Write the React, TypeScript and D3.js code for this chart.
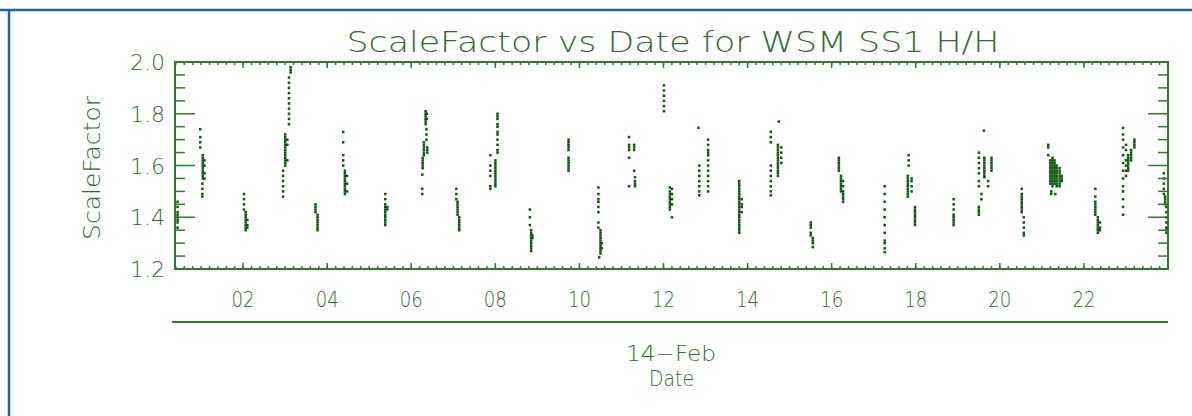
import { useEffect, useRef } from 'react';
import * as d3 from 'd3';

// all hours are on 14 Feb, UTC
const day0 = Date.UTC(2014, 1, 14);
const atHour = (h: number) => new Date(day0 + h * 3600e3);

const xStartHour = 0.38;
const xEndHour = 24;
const yDomain = [1.2, 2.0];
const yTickValues = [1.2, 1.4, 1.6, 1.8, 2.0];
const dateLabel = '14\u2212Feb';

// each entry: [hour of day, scale factor readings at that time]
const obsNight: [number, number[]][] = [
  [0.44, [1.46, 1.44, 1.42, 1.41, 1.4, 1.39, 1.38, 1.36]],
  [0.98, [1.74, 1.71, 1.69, 1.67]],
  [1.04, [1.64, 1.63, 1.62, 1.61, 1.6, 1.59, 1.58, 1.57, 1.56, 1.55]],
  [1.08, [1.62, 1.6, 1.57, 1.55]],
  [1.03, [1.53, 1.51, 1.49, 1.48]],
  [2.02, [1.49, 1.47, 1.45, 1.43]],
  [2.06, [1.42, 1.41, 1.4, 1.39, 1.38, 1.37, 1.36, 1.35]],
  [2.1, [1.39, 1.37, 1.36]],
  [3.13, [1.98, 1.97, 1.96]],
  [3.09, [1.94, 1.92, 1.9, 1.88, 1.86, 1.84, 1.82, 1.8, 1.78, 1.76]],
  [3.0, [1.72, 1.71, 1.7, 1.69, 1.68, 1.67, 1.66, 1.65, 1.64, 1.63, 1.62, 1.61, 1.6]],
  [3.05, [1.7, 1.68, 1.62]],
  [2.95, [1.58, 1.56, 1.54, 1.52, 1.5, 1.48]],
  [3.72, [1.45, 1.44, 1.43, 1.42]],
  [3.77, [1.41, 1.4, 1.39, 1.38, 1.37, 1.36, 1.35]],
  [4.38, [1.73, 1.69, 1.64, 1.62, 1.6]],
  [4.42, [1.58, 1.57, 1.56, 1.55, 1.54, 1.53, 1.52, 1.51, 1.5, 1.49]],
  [4.47, [1.56, 1.53, 1.5]],
  [5.38, [1.49, 1.47, 1.45, 1.44, 1.43, 1.42, 1.41, 1.4, 1.39, 1.38, 1.37]],
  [5.43, [1.44, 1.43]],
];

const obsMorning: [number, number[]][] = [
  [6.34, [1.81, 1.8, 1.79, 1.78, 1.77, 1.76]],
  [6.37, [1.8, 1.78]],
  [6.36, [1.74, 1.72, 1.7]],
  [6.3, [1.69, 1.68, 1.67, 1.66, 1.65, 1.64]],
  [6.38, [1.67, 1.66, 1.65]],
  [6.27, [1.63, 1.62, 1.61, 1.6, 1.59]],
  [6.26, [1.565, 1.51, 1.49]],
  [7.07, [1.51, 1.49, 1.47]],
  [7.1, [1.46, 1.45, 1.44, 1.43, 1.42, 1.41]],
  [7.14, [1.4, 1.39, 1.38, 1.37, 1.36, 1.35]],
  [8.05, [1.8, 1.79, 1.78, 1.76, 1.75, 1.73, 1.72, 1.7, 1.68, 1.66, 1.65]],
  [7.88, [1.64, 1.6, 1.58, 1.56, 1.52, 1.51]],
  [8.0, [1.62, 1.61, 1.6, 1.59, 1.58, 1.57, 1.56, 1.55, 1.54, 1.53, 1.52]],
  [8.82, [1.43, 1.4, 1.37]],
  [8.85, [1.35, 1.34, 1.33, 1.32, 1.31, 1.3, 1.29, 1.28, 1.27]],
  [8.88, [1.33, 1.32]],
  [9.74, [1.7, 1.69, 1.68, 1.67, 1.66, 1.63, 1.62, 1.61, 1.6, 1.59, 1.58]],
  [10.45, [1.515, 1.49, 1.47, 1.46, 1.44, 1.42, 1.38, 1.36]],
  [10.5, [1.35, 1.34, 1.33, 1.32, 1.31, 1.3, 1.29, 1.28, 1.27, 1.26]],
  [10.53, [1.3, 1.28]],
  [10.47, [1.245]],
  [11.18, [1.71, 1.68, 1.67, 1.66, 1.63, 1.52]],
  [11.3, [1.68, 1.67, 1.66, 1.58]],
  [11.32, [1.555, 1.54, 1.53, 1.52]],
];

const obsAfternoon: [number, number[]][] = [
  [12.01, [1.91, 1.89, 1.87, 1.85, 1.83, 1.81]],
  [12.15, [1.515, 1.5, 1.49, 1.48, 1.47, 1.46, 1.45, 1.44, 1.43]],
  [12.2, [1.51, 1.49, 1.47, 1.45, 1.4]],
  [12.83, [1.746]],
  [13.06, [1.7, 1.68, 1.66, 1.65, 1.64, 1.62, 1.6, 1.58, 1.56, 1.54, 1.52, 1.5]],
  [12.85, [1.6, 1.58, 1.56, 1.54, 1.52, 1.5, 1.485]],
  [13.8, [1.54, 1.53, 1.52, 1.51, 1.5, 1.49, 1.48, 1.47, 1.46, 1.45, 1.44, 1.43, 1.42, 1.41, 1.4, 1.39, 1.38, 1.37, 1.36, 1.35, 1.34]],
  [13.86, [1.47, 1.45, 1.44, 1.42]],
  [14.74, [1.77]],
  [14.55, [1.73, 1.71, 1.69, 1.6, 1.58, 1.56, 1.54, 1.52, 1.5, 1.485]],
  [14.72, [1.68, 1.67, 1.66, 1.65, 1.64, 1.63, 1.62, 1.61, 1.6, 1.59, 1.58, 1.57, 1.56]],
  [14.8, [1.67, 1.65, 1.63, 1.61]],
  [15.5, [1.38, 1.37, 1.36, 1.34, 1.33]],
  [15.55, [1.32, 1.31, 1.3, 1.285]],
  [16.17, [1.63, 1.62, 1.61, 1.6, 1.59, 1.58]],
  [16.22, [1.56, 1.55, 1.54, 1.53, 1.52, 1.51, 1.5]],
  [16.27, [1.54, 1.52, 1.5, 1.49, 1.48, 1.47, 1.46]],
  [17.26, [1.52, 1.49, 1.46, 1.43, 1.4, 1.37, 1.34, 1.31, 1.3, 1.28, 1.265]],
  [17.83, [1.64, 1.62, 1.6]],
  [17.81, [1.56, 1.55, 1.54, 1.53, 1.52, 1.51, 1.5, 1.49, 1.48]],
  [17.9, [1.55, 1.54, 1.52, 1.5]],
  [17.98, [1.44, 1.43, 1.42, 1.41, 1.4, 1.39, 1.38, 1.37]],
];

const obsEvening: [number, number[]][] = [
  [18.9, [1.47, 1.45, 1.43, 1.41, 1.4, 1.39, 1.38, 1.37]],
  [19.62, [1.735]],
  [19.5, [1.65, 1.63, 1.61, 1.59, 1.57, 1.54, 1.52, 1.44, 1.43, 1.42, 1.41]],
  [19.63, [1.63, 1.62, 1.61, 1.6, 1.59, 1.58, 1.57, 1.56, 1.555]],
  [19.72, [1.54, 1.52]],
  [19.8, [1.63, 1.62, 1.61, 1.6, 1.59, 1.58]],
  [19.56, [1.49, 1.47]],
  [20.52, [1.51, 1.49, 1.48, 1.47, 1.46, 1.45, 1.44, 1.43, 1.42]],
  [20.57, [1.4, 1.38, 1.36, 1.34, 1.33]],
  [21.15, [1.68, 1.67, 1.64]],
  [21.2, [1.62, 1.61, 1.6, 1.59, 1.58, 1.57, 1.56, 1.55, 1.54, 1.53]],
  [21.25, [1.63, 1.62, 1.61, 1.6, 1.59, 1.58, 1.57, 1.56, 1.55, 1.54, 1.53, 1.52]],
  [21.3, [1.62, 1.61, 1.6, 1.59, 1.58, 1.57, 1.56, 1.55, 1.54, 1.53]],
  [21.35, [1.6, 1.59, 1.58, 1.57, 1.56, 1.55, 1.54, 1.53, 1.52]],
  [21.42, [1.59, 1.58, 1.57, 1.56, 1.55, 1.54, 1.53, 1.52]],
  [21.47, [1.56, 1.55, 1.54]],
  [21.22, [1.5, 1.49]],
  [21.32, [1.49]],
  [22.27, [1.51, 1.48, 1.46, 1.45, 1.44, 1.43, 1.42, 1.41]],
  [22.33, [1.4, 1.39, 1.38, 1.37, 1.36, 1.35, 1.34]],
  [22.38, [1.38, 1.36, 1.35]],
  [22.93, [1.745, 1.72, 1.7, 1.67, 1.64, 1.61, 1.58, 1.55, 1.52, 1.5, 1.47, 1.44, 1.41]],
  [23.0, [1.68, 1.66, 1.62, 1.6, 1.58, 1.56]],
  [23.05, [1.64, 1.63, 1.62, 1.61, 1.6, 1.59, 1.58]],
  [23.12, [1.66, 1.65, 1.64, 1.63, 1.62]],
  [23.2, [1.7, 1.69, 1.68, 1.67]],
  [23.9, [1.57, 1.55, 1.53, 1.51, 1.49]],
  [23.93, [1.48, 1.47, 1.46, 1.45]],
  [23.96, [1.44, 1.42, 1.4, 1.38, 1.36, 1.35, 1.34]],
];

const ScaleFactorPlot = () => {
  const svgRef = useRef<SVGSVGElement>(null);

  useEffect(() => {
    const width = 1192;
    const height = 416;
    const box = { left: 175, right: 1168, top: 62, bottom: 269 };
    const axisColor = '#2f7a2f';
    const textColor = '#2d6b2d';
    const font = "'DejaVu Sans', sans-serif";

    const svg = d3.select(svgRef.current)
      .attr('width', width)
      .attr('height', height);
    svg.selectAll('*').remove();

    svg.append('rect').attr('width', width).attr('height', height).attr('fill', '#fff');

    // blue page frame
    svg.append('line')
      .attr('x1', 0).attr('x2', width).attr('y1', 10).attr('y2', 10)
      .attr('stroke', '#1a67a3').attr('stroke-width', 2.5);
    svg.append('line')
      .attr('x1', 9).attr('x2', 9).attr('y1', 10).attr('y2', height)
      .attr('stroke', '#1a67a3').attr('stroke-width', 2.5);

    const x = d3.scaleUtc()
      .domain([atHour(xStartHour), atHour(xEndHour)])
      .range([box.left, box.right]);
    const y = d3.scaleLinear()
      .domain(yDomain)
      .range([box.bottom, box.top]);

    // points
    const points = [...obsNight, ...obsMorning, ...obsAfternoon, ...obsEvening]
      .flatMap(([h, vals]) => vals.map(v => ({ t: atHour(h), v })));

    svg.append('g')
      .selectAll('rect')
      .data(points)
      .enter()
      .append('rect')
      .attr('x', d => x(d.t) - 1.2)
      .attr('y', d => y(d.v) - 1.2)
      .attr('width', 2.5)
      .attr('height', 2.5)
      .attr('fill', '#0b570b');

    // frame of the plot
    svg.append('rect')
      .attr('x', box.left).attr('y', box.top)
      .attr('width', box.right - box.left).attr('height', box.bottom - box.top)
      .attr('fill', 'none')
      .attr('stroke', axisColor)
      .attr('stroke-width', 2);

    const ticks = svg.append('g').attr('stroke', axisColor).attr('stroke-width', 1.5);

    // y ticks, both sides, pointing inward
    const yMinor = y.ticks(16);
    yMinor.forEach(v => {
      const major = yTickValues.some(m => Math.abs(m - v) < 1e-6);
      const len = major ? 20 : 10;
      ticks.append('line')
        .attr('x1', box.left).attr('x2', box.left + len)
        .attr('y1', y(v)).attr('y2', y(v));
      ticks.append('line')
        .attr('x1', box.right).attr('x2', box.right - len)
        .attr('y1', y(v)).attr('y2', y(v));
    });

    // x ticks, top and bottom
    const xMinor = x.ticks(d3.utcMinute.every(12)!);
    const xMajor = x.ticks(d3.utcHour.every(2)!).filter(t => t < atHour(xEndHour));
    xMinor.forEach(t => {
      ticks.append('line')
        .attr('x1', x(t)).attr('x2', x(t))
        .attr('y1', box.bottom).attr('y2', box.bottom - 3);
      ticks.append('line')
        .attr('x1', x(t)).attr('x2', x(t))
        .attr('y1', box.top).attr('y2', box.top + 3);
    });
    xMajor.forEach(t => {
      ticks.append('line')
        .attr('x1', x(t)).attr('x2', x(t))
        .attr('y1', box.bottom).attr('y2', box.bottom - 6);
      ticks.append('line')
        .attr('x1', x(t)).attr('x2', x(t))
        .attr('y1', box.top).attr('y2', box.top + 6);
    });

    const fmtHour = d3.utcFormat('%H');
    svg.append('g')
      .selectAll('text')
      .data(xMajor)
      .enter()
      .append('text')
      .attr('x', d => x(d))
      .attr('y', 307)
      .attr('text-anchor', 'middle')
      .attr('font-family', font)
      .attr('font-weight', 200)
      .attr('font-size', 21)
      .attr('textLength', 23)
      .attr('lengthAdjust', 'spacingAndGlyphs')
      .attr('fill', textColor)
      .text(d => fmtHour(d));

    svg.append('g')
      .selectAll('text')
      .data(yTickValues)
      .enter()
      .append('text')
      .attr('x', 165)
      .attr('y', d => y(d) + 8)
      .attr('text-anchor', 'end')
      .attr('font-family', font)
      .attr('font-weight', 200)
      .attr('font-size', 22)
      .attr('fill', textColor)
      .text(d => d.toFixed(1));

    // secondary date axis line
    svg.append('line')
      .attr('x1', 172).attr('x2', box.right)
      .attr('y1', 322).attr('y2', 322)
      .attr('stroke', axisColor).attr('stroke-width', 2);

    const mid = (box.left + box.right) / 2;
    svg.append('text')
      .attr('x', mid - 0.5).attr('y', 361)
      .attr('text-anchor', 'middle')
      .attr('font-family', font).attr('font-weight', 200).attr('font-size', 21)
      .attr('textLength', 90).attr('lengthAdjust', 'spacingAndGlyphs')
      .attr('fill', textColor)
      .text(dateLabel);
    svg.append('text')
      .attr('x', mid).attr('y', 386)
      .attr('text-anchor', 'middle')
      .attr('font-family', font).attr('font-weight', 200).attr('font-size', 22)
      .attr('textLength', 45).attr('lengthAdjust', 'spacingAndGlyphs')
      .attr('fill', textColor)
      .text('Date');

    svg.append('text')
      .attr('transform', 'translate(100,168) rotate(-90)')
      .attr('text-anchor', 'middle')
      .attr('font-family', font).attr('font-weight', 200).attr('font-size', 23)
      .attr('textLength', 144).attr('lengthAdjust', 'spacingAndGlyphs')
      .attr('fill', textColor)
      .text('ScaleFactor');

    svg.append('text')
      .attr('x', 673).attr('y', 52)
      .attr('text-anchor', 'middle')
      .attr('font-family', font).attr('font-weight', 200).attr('font-size', 28)
      .attr('textLength', 653).attr('lengthAdjust', 'spacingAndGlyphs')
      .attr('fill', textColor)
      .text('ScaleFactor vs Date for WSM SS1 H/H');
  }, []);

  return <svg ref={svgRef} style={{ position: 'absolute', left: 0, top: 0, display: 'block' }}></svg>;
};

export default function App() {
  return <ScaleFactorPlot />;
}
